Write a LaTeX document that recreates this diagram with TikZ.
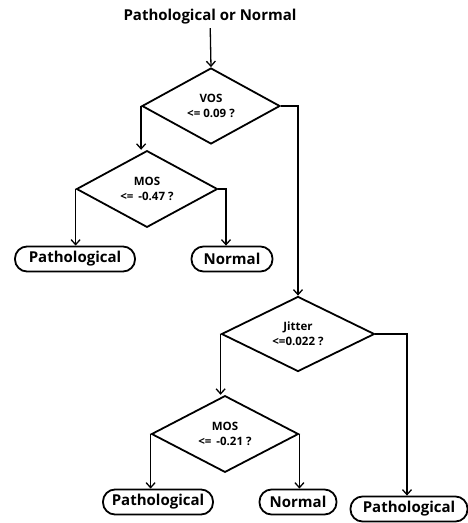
\documentclass[tikz,border=0pt]{standalone}
\usepackage{fontspec}
\setmainfont{Open Sans}[BoldFont={Open Sans Bold}]
\usetikzlibrary{shapes.geometric,arrows.meta}
\begin{document}
\begin{tikzpicture}[x=1pt,y=-1pt,
  dia/.style={draw,line width=1.8pt,diamond,inner sep=0pt,align=center,font=\bfseries\fontsize{11.5}{15}\selectfont},
  term/.style={draw,line width=1.8pt,rounded corners=12pt,inner sep=0pt,font=\bfseries\fontsize{15}{18}\selectfont,minimum height=25pt},
  conn/.style={line width=1.3pt,-{Straight Barb[length=5pt,width=9pt,line width=1.3pt]}},
  ttl/.style={font=\bfseries\fontsize{15}{18}\selectfont}]
\useasboundingbox (0,0) rectangle (468,523);
\node[ttl] (t) at (210,17) {Pathological or Normal};
\node[dia,minimum width=138pt,minimum height=76pt] (vos) at (211,106) {VOS\\<= 0.09 ?};
\node[dia,minimum width=141pt,minimum height=68pt] (mos1) at (147,189) {MOS\\<= \,-0.47 ?};
\node[dia,minimum width=153pt,minimum height=65pt] (jit) at (298,334) {Jitter\\<=0.022 ?};
\node[dia,minimum width=147pt,minimum height=61pt] (mos2) at (225,434) {MOS\\<= \,-0.21 ?};
\node[term,minimum width=120pt] (p1) at (75,259) {Pathological};
\node[term,minimum width=81pt] (n1) at (232,259) {Normal};
\node[term,minimum width=110pt] (p2) at (158,502) {Pathological};
\node[term,minimum width=77pt] (n2) at (298,502) {Normal};
\node[term,minimum width=117pt] (p3) at (409,509) {Pathological};
\draw[conn] (t) -- (vos.north);
\draw[conn] (vos.west) -- (vos.west |- mos1.north);
\draw[conn] (vos.east) -| (jit.north);
\draw[conn] (mos1.west) -- (mos1.west |- p1.north);
\draw[conn] (mos1.east) -| ([xshift=-6pt]n1.north);
\draw[conn] (jit.west) -- (jit.west |- mos2.north);
\draw[conn] (jit.east) -| ([xshift=-2pt]p3.north);
\draw[conn] (mos2.west) -- (mos2.west |- p2.north);
\draw[conn] (mos2.east) -- (mos2.east |- n2.north);
\end{tikzpicture}
\end{document}
